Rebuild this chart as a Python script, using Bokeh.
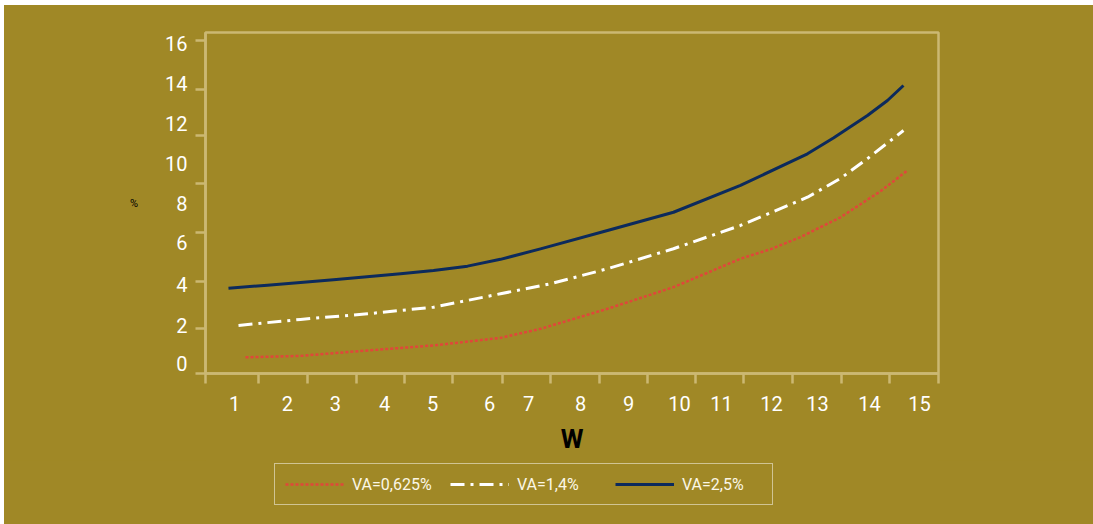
from bokeh.plotting import figure
from bokeh.layouts import column
from bokeh.models import Range1d, FixedTicker, Legend, LegendItem
from bokeh.embed import file_html
from bokeh.resources import INLINE

# ---------------- data ----------------
series_names = ["VA=0,625%", "VA=1,4%", "VA=2,5%"]

w_red = [1.225, 2.349, 3.718, 5.067, 6.436, 7.254, 8.623, 9.972, 11.341, 11.95, 12.568, 13.385, 13.794, 14.203, 14.755]
v_red = [0.31, 0.38, 0.65, 0.90, 1.28, 1.73, 2.73, 3.81, 5.23, 5.70, 6.31, 7.30, 7.95, 8.60, 9.64]

w_white = [1.082, 2.349, 3.718, 4.393, 5.067, 6.436, 7.458, 8.623, 9.972, 11.341, 12.710, 13.385, 13.936, 14.672]
v_white = [1.90, 2.20, 2.48, 2.65, 2.81, 3.48, 3.98, 4.73, 5.73, 6.89, 8.30, 9.24, 10.23, 11.63]

w_blue = [0.877, 1.674, 3.023, 4.393, 5.067, 5.762, 6.436, 7.254, 8.623, 9.972, 11.341, 12.710, 13.240, 13.936, 14.345, 14.672]
v_blue = [3.76, 3.91, 4.18, 4.48, 4.64, 4.86, 5.20, 5.72, 6.64, 7.55, 8.89, 10.47, 11.26, 12.38, 13.13, 13.88]

x_labels = ["1", "2", "3", "4", "5", "6", "7", "8", "9", "10", "11", "12", "13", "14", "15"]
x_label_pos = [1.0, 2.083, 3.064, 4.066, 5.047, 6.212, 7.009, 8.072, 9.053, 10.095, 10.953, 11.974, 12.914, 13.977, 14.999]
x_tick_pos = [0.41, 1.490, 2.492, 3.493, 4.474, 5.455, 6.477, 7.458, 8.460, 9.441, 10.422, 11.403, 12.404, 13.406, 14.387, 15.385]

y_labels = ["0", "2", "4", "6", "8", "10", "12", "14", "16"]
y_label_pos = [0.0, 1.90, 3.94, 6.04, 7.99, 9.96, 11.98, 14.0, 16.0]
y_tick_pos = [-0.49, 1.75, 4.09, 6.54, 8.99, 11.38, 13.68, 16.13]

# ---------------- style ----------------
OLIVE = "#A08826"
TAN = "#CBB873"
RED = "#E0473A"
BLUE = "#0C2A5C"
CREAM = "#FBF7E6"
FONT = "Roboto"

X_RANGE = (0.4073, 15.388)
Y_RANGE = (-0.50, 16.525)

p = figure(width=1089, height=455,
           x_range=Range1d(*X_RANGE), y_range=Range1d(*Y_RANGE),
           output_backend="svg", toolbar_location=None,
           min_border_left=201, min_border_right=155,
           min_border_top=27, min_border_bottom=87,
           background_fill_color=OLIVE, border_fill_color=OLIVE,
           outline_line_color=TAN, outline_line_width=2.5)
p.xgrid.visible = False
p.ygrid.visible = False

line_styles = [dict(line_color=RED, line_width=2.5, line_dash="3 2"),
               dict(line_color="white", line_width=3, line_dash="14 6 3 6"),
               dict(line_color=BLUE, line_width=3)]
series = [(w_red, v_red), (w_white, v_white), (w_blue, v_blue)]

for (xs, ys), st in zip(series, line_styles):
    p.line(xs, ys, line_join="round", **st)

for ax, pos, labs, ticks in ((p.xaxis[0], x_label_pos, x_labels, x_tick_pos),
                             (p.yaxis[0], y_label_pos, y_labels, y_tick_pos)):
    ax.ticker = FixedTicker(ticks=pos, minor_ticks=ticks)
    ax.major_label_overrides = {pp: ll for pp, ll in zip(pos, labs)}
    ax.major_tick_line_color = None
    ax.major_tick_out = 0
    ax.major_tick_in = 0
    ax.minor_tick_line_color = TAN
    ax.minor_tick_line_width = 2.5
    ax.minor_tick_out = 10
    ax.minor_tick_in = 0
    ax.axis_line_color = TAN
    ax.axis_line_width = 2.5
    ax.major_label_text_color = "white"
    ax.major_label_text_font = FONT
    ax.major_label_text_font_size = "20px"

p.xaxis.major_label_standoff = 12
p.yaxis.major_label_standoff = 8

p.xaxis.axis_label = "W"
p.xaxis.axis_label_text_font = FONT
p.xaxis.axis_label_text_font_style = "bold"
p.xaxis.axis_label_text_font_size = "26px"
p.xaxis.axis_label_text_color = "black"
p.xaxis.axis_label_standoff = 10

p.yaxis.axis_label = "%"
p.yaxis.axis_label_orientation = "horizontal"
p.yaxis.axis_label_text_font = FONT
p.yaxis.axis_label_text_font_style = "normal"
p.yaxis.axis_label_text_font_size = "11px"
p.yaxis.axis_label_text_color = "black"
p.yaxis.axis_label_standoff = 24

# ---- legend strip (own small figure so the legend is not clipped) ----
p2 = figure(width=1089, height=64,
            x_range=Range1d(*X_RANGE), y_range=Range1d(*Y_RANGE),
            output_backend="svg", toolbar_location=None,
            min_border_left=201, min_border_right=155,
            min_border_top=0, min_border_bottom=0,
            background_fill_color=OLIVE, border_fill_color=OLIVE,
            outline_line_color=None)
p2.axis.visible = False
p2.grid.visible = False
leg_renderers = [p2.line(xs, ys, visible=False, **st) for (xs, ys), st in zip(series, line_styles)]

legend = Legend(items=[LegendItem(label=n, renderers=[r]) for n, r in zip(series_names, leg_renderers)],
                location=(69, 19), orientation="horizontal", margin=0,
                glyph_width=59, glyph_height=20, label_height=20,
                label_width=80, label_standoff=8, spacing=18, padding=10,
                border_line_color="white", border_line_width=1.5,
                background_fill_alpha=0, inactive_fill_alpha=0,
                label_text_color=CREAM, label_text_font=FONT,
                label_text_font_size="16px")
p2.add_layout(legend, "center")

layout = column(p, p2, spacing=0, margin=(5, 0, 0, 4),
                styles={"background-color": OLIVE})
open("out.html", "w").write(file_html(layout, INLINE))
